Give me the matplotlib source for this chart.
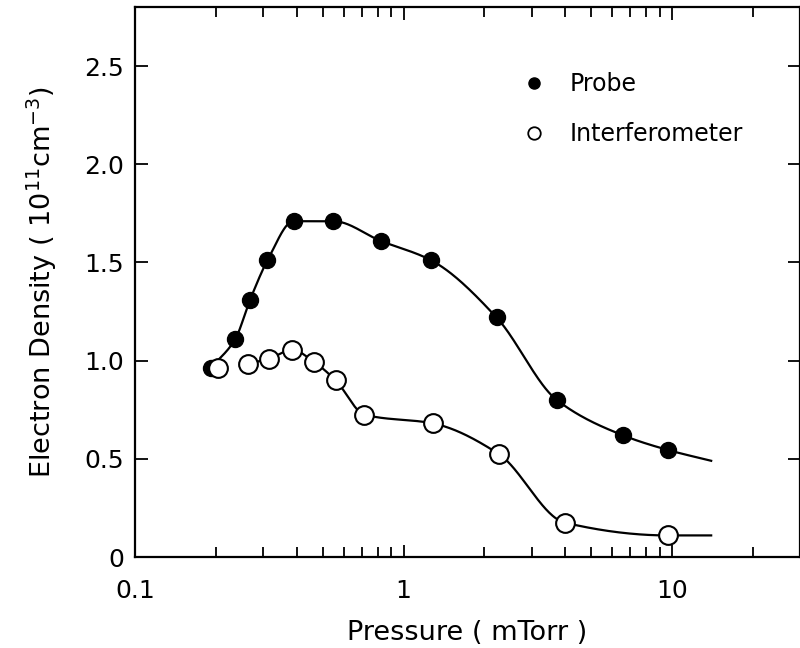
import numpy as np
import matplotlib
matplotlib.use("Agg")
import matplotlib.pyplot as plt
from matplotlib.lines import Line2D
from matplotlib.ticker import FixedLocator, LogLocator, NullFormatter

plt.rcParams["font.family"] = ["DejaVu Sans"]
plt.rcParams["mathtext.default"] = "regular"

# Probe (filled circles)
probe_p = [0.192, 0.236, 0.268, 0.311, 0.389, 0.548, 0.821, 1.27, 2.22, 3.72, 6.56, 9.66]
probe_n = [0.965, 1.11, 1.31, 1.51, 1.71, 1.71, 1.61, 1.51, 1.22, 0.80, 0.62, 0.545]

# Interferometer (open circles)
interf_p = [0.204, 0.264, 0.316, 0.385, 0.462, 0.558, 0.715, 1.29, 2.26, 3.99, 9.66]
interf_n = [0.965, 0.985, 1.01, 1.055, 0.995, 0.90, 0.725, 0.68, 0.525, 0.175, 0.11]

# where the hand-drawn fit lines stop on the right
probe_tail = (14.0, 0.49)
interf_tail = (14.0, 0.11)

y_ticks = [0, 0.5, 1.0, 1.5, 2.0, 2.5]
y_ticklabels = ["0", "0.5", "1.0", "1.5", "2.0", "2.5"]
x_ticks = [0.1, 1, 10]
x_ticklabels = ["0.1", "1", "10"]


def smooth(xs, ys, n=60):
    """Monotone cubic (PCHIP-style) curve y(log x) through the points."""
    lx = np.log10(xs)
    ys = np.asarray(ys, float)
    h = np.diff(lx)
    d = np.diff(ys) / h
    m = np.zeros_like(ys)
    for k in range(1, len(ys) - 1):
        if d[k - 1] * d[k] > 0:
            w1 = 2 * h[k] + h[k - 1]
            w2 = h[k] + 2 * h[k - 1]
            m[k] = (w1 + w2) / (w1 / d[k - 1] + w2 / d[k])
    m[0], m[-1] = d[0], d[-1]
    outx, outy = [], []
    t = np.linspace(0, 1, n)
    h00 = 2 * t**3 - 3 * t**2 + 1
    h10 = t**3 - 2 * t**2 + t
    h01 = -2 * t**3 + 3 * t**2
    h11 = t**3 - t**2
    for i in range(len(h)):
        outx.append(lx[i] + t * h[i])
        outy.append(h00 * ys[i] + h10 * h[i] * m[i] + h01 * ys[i + 1] + h11 * h[i] * m[i + 1])
    return 10 ** np.concatenate(outx), np.concatenate(outy)


fig = plt.figure(figsize=(8, 6.48), dpi=100)
ax = fig.add_axes([0.169, 0.1404, 0.831, 0.8486])

# fit lines
cx, cy = smooth(probe_p + [probe_tail[0]], probe_n + [probe_tail[1]])
ax.plot(cx, cy, color="black", lw=1.6, zorder=2)
cx, cy = smooth(interf_p[1:] + [interf_tail[0]], interf_n[1:] + [interf_tail[1]])
ax.plot(cx, cy, color="black", lw=1.6, zorder=2)

ax.plot(probe_p, probe_n, "o", color="black", ms=11.5, zorder=3)
ax.plot(interf_p, interf_n, "o", mfc="white", mec="black", mew=1.5, ms=13.5, zorder=4)

ax.set_xscale("log")
ax.set_xlim(0.1, 30)
ax.set_ylim(0, 2.8)

ax.xaxis.set_major_locator(FixedLocator(x_ticks))
ax.set_xticklabels(x_ticklabels)
ax.xaxis.set_minor_locator(LogLocator(base=10, subs=np.arange(2, 10)))
ax.xaxis.set_minor_formatter(NullFormatter())
ax.set_yticks(y_ticks)
ax.set_yticklabels(y_ticklabels)

ax.tick_params(which="both", direction="in", top=True, right=True, width=1.3)
ax.tick_params(which="major", length=9, labelsize=18)
ax.tick_params(which="minor", length=7)
ax.tick_params(axis="x", which="major", pad=16)
ax.tick_params(axis="y", which="major", pad=8)
for s in ax.spines.values():
    s.set_linewidth(1.6)

ax.set_xlabel("Pressure ( mTorr )", fontsize=19.5, labelpad=12)
ax.set_ylabel("Electron Density ( 10$^{11}$cm$^{-3}$)", fontsize=19.5, labelpad=18)

handles = [
    Line2D([], [], ls="none", marker="o", color="black", ms=8),
    Line2D([], [], ls="none", marker="o", mfc="white", mec="black", mew=1.3, ms=9),
]
ax.legend(handles, ["Probe", "Interferometer"], loc="upper left",
          bbox_to_anchor=(0.55, 0.92), frameon=False, fontsize=17,
          handletextpad=1.0, labelspacing=1.1, handlelength=1.0)

fig.savefig("out.png", dpi=100)
